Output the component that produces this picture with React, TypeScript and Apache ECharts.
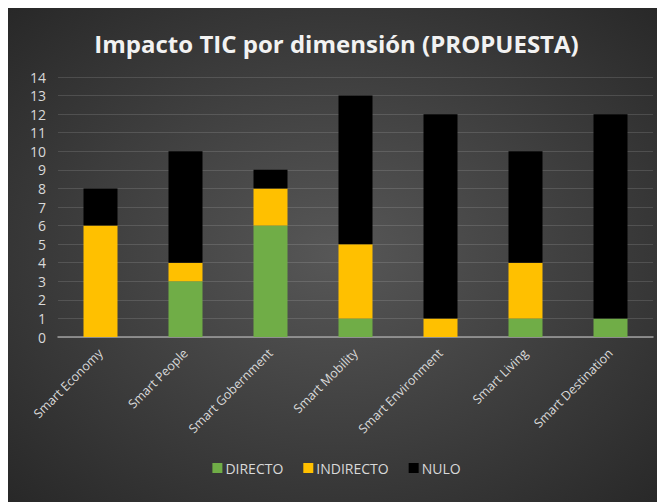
import React, { useEffect, useRef } from "react";
import * as echarts from "echarts";

const categories = [
  "Smart Economy",
  "Smart People",
  "Smart Gobernment",
  "Smart Mobility",
  "Smart Environment",
  "Smart Living",
  "Smart Destination",
];
const directo = [0, 3, 6, 1, 0, 1, 1];
const indirecto = [6, 1, 2, 4, 1, 3, 0];
const nulo = [2, 6, 1, 8, 11, 6, 11];

const FONT = "'Open Sans', 'Noto Sans', sans-serif";

export default function App() {
  const ref = useRef<HTMLDivElement>(null);
  useEffect(() => {
    if (!ref.current) return;
    const chart = echarts.init(ref.current, undefined, { renderer: "svg" });
    const mk = (name: string, data: number[], color: string) => ({
      name,
      type: "bar",
      stack: "total",
      data,
      barWidth: 34,
      itemStyle: { color },
    });
    chart.setOption({
      animation: false,
      backgroundColor: {
        type: "radial",
        x: 0.5,
        y: 0.5,
        r: 0.75,
        colorStops: [
          { offset: 0, color: "#575757" },
          { offset: 1, color: "#252525" },
        ],
      },
      title: {
        text: "Impacto TIC por dimensión (PROPUESTA)",
        left: "center",
        top: 18,
        textStyle: {
          color: "#f2f2f2",
          fontFamily: FONT,
          fontSize: 24,
          fontWeight: "bold",
        },
      },
      legend: {
        bottom: 22,
        left: "center",
        itemWidth: 10,
        itemHeight: 10,
        itemGap: 20,
        icon: "rect",
        textStyle: { color: "#d9d9d9", fontFamily: FONT, fontSize: 14, padding: [0, 0, 0, -2] },
        data: ["DIRECTO", "INDIRECTO", "NULO"],
      },
      grid: { left: 50, right: 12, top: 69, bottom: 165 },
      xAxis: {
        type: "category",
        data: categories,
        axisLine: { lineStyle: { color: "#a0a0a0", width: 1.5 } },
        axisTick: { show: false },
        axisLabel: {
          rotate: 45,
          color: "#d9d9d9",
          fontFamily: FONT,
          fontSize: 12.5,
          margin: 14,
          interval: 0,
        },
      },
      yAxis: {
        type: "value",
        min: 0,
        max: 14,
        interval: 1,
        axisLine: { show: false },
        axisTick: { show: false },
        splitLine: { lineStyle: { color: "rgba(255,255,255,0.13)", width: 1 } },
        axisLabel: { color: "#d9d9d9", fontFamily: FONT, fontSize: 14, margin: 12 },
      },
      series: [
        mk("DIRECTO", directo, "#70AD47"),
        mk("INDIRECTO", indirecto, "#FFC000"),
        mk("NULO", nulo, "#000000"),
      ],
    });
    return () => chart.dispose();
  }, []);
  return <div ref={ref} style={{ width: 657, height: 494 }} />;
}
